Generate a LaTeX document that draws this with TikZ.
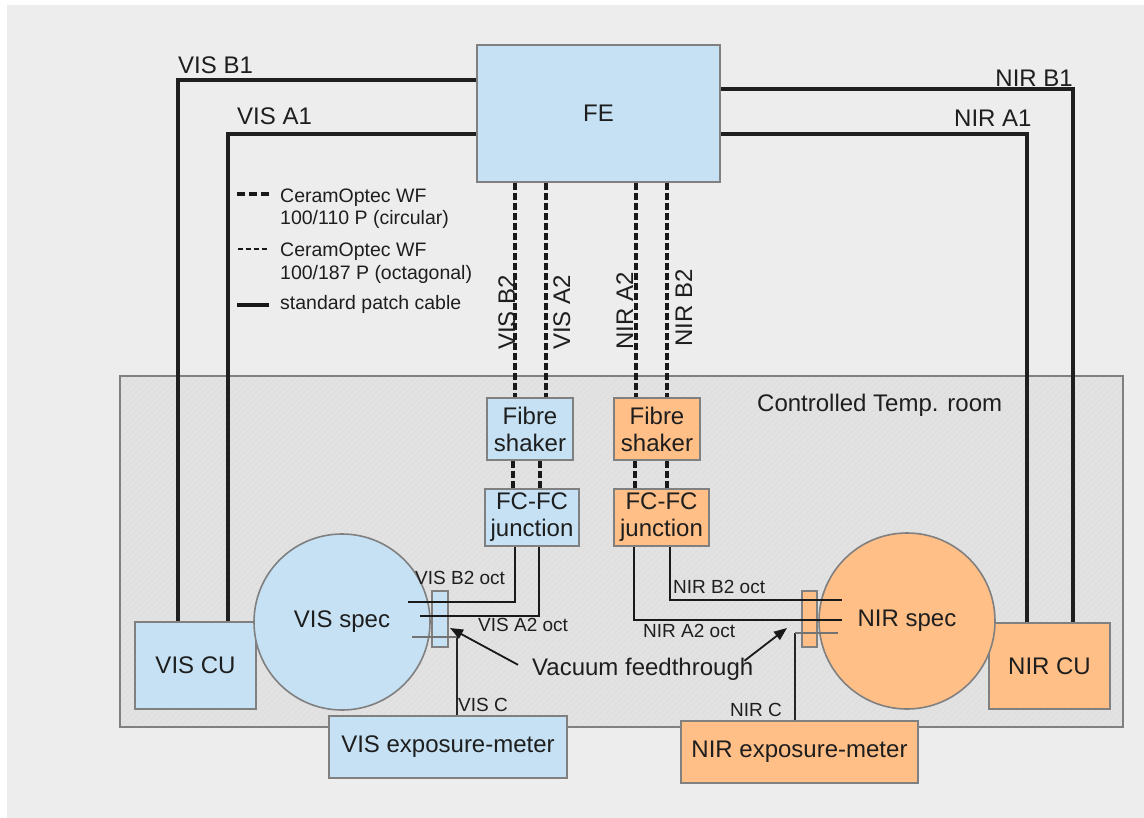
\documentclass[tikz,border=0pt]{standalone}
\usepackage{fontspec}
\setmainfont{Liberation Sans}
\usetikzlibrary{arrows.meta,patterns.meta}
\definecolor{visblue}{HTML}{C5E1F3}
\definecolor{nirorange}{HTML}{FFBF87}
\definecolor{bordergray}{HTML}{808080}
\definecolor{bggray}{HTML}{EDEDED}
\definecolor{roomgray}{HTML}{E2E2E2}
\definecolor{roomhatch}{HTML}{DADADA}
\definecolor{txt}{HTML}{1E1E1E}
\begin{document}
\begin{tikzpicture}[x=1pt,y=-1pt,
  big/.style={font=\fontsize{24}{27}\selectfont, text=txt},
  small/.style={font=\fontsize{19}{22}\selectfont, text=txt},
  legtxt/.style={font=\fontsize{19.5}{22}\selectfont, text=txt},
  box/.style={draw=bordergray, line width=1.6pt, inner sep=0pt, align=center, big},
  vis/.style={box, fill=visblue},
  nir/.style={box, fill=nirorange},
  patch/.style={line width=3.4pt, black!88},
  circfib/.style={line width=4pt, dash pattern=on 7pt off 3pt, black!90},
  octthin/.style={line width=1.5pt, dash pattern=on 5pt off 3pt, black!90},
  octfib/.style={line width=2pt, black!90},
  cline/.style={line width=2pt, black!85},
  cgray/.style={line width=2pt, black!55},
  arr/.style={line width=1.8pt, black!90, -{Triangle[length=13pt,width=10pt]}},
  lbl/.style={inner sep=0pt, anchor=base west}
]
\useasboundingbox (0,0) rectangle (1144,818);
\fill[white] (0,0) rectangle (1144,818);
\fill[bggray] (7,5) rectangle (1144,818);

% controlled temperature room
\node[fill=roomgray, inner sep=0pt, minimum width=1003pt, minimum height=351pt,
      postaction={pattern={Lines[angle=45,distance=4pt,line width=0.6pt]}, pattern color=roomhatch}]
      (room) at (621.5,551.5) {};
\draw[bordergray, line width=1.8pt] (room.north west) rectangle (room.south east);
\node[lbl, big] (lroom) at (757,412) {Controlled Temp. room};

% nodes
\node[vis, minimum width=243pt, minimum height=137pt] (FE) at (598.5,113.5) {FE};
\node[vis, minimum width=86pt, minimum height=62pt] (vshk) at (530,429) {Fibre\\shaker};
\node[nir, minimum width=86pt, minimum height=62pt] (nshk) at (657,429) {Fibre\\shaker};
\node[vis, minimum width=94pt, minimum height=57pt] (vjun) at (532,517.5) {FC-FC\\junction};
\node[nir, minimum width=95pt, minimum height=57pt] (njun) at (661.5,517.5) {FC-FC\\junction};
\node[vis, minimum width=121pt, minimum height=87pt] (vcu) at (195.5,665.5) {VIS CU};
\node[nir, minimum width=121pt, minimum height=86pt] (ncu) at (1049.5,666) {NIR CU};
\node[vis, circle, minimum size=176pt] (vspec) at (342,622) {VIS spec};
\node[nir, circle, minimum size=176pt] (nspec) at (907,621) {NIR spec};
\node[vis, minimum width=238pt, minimum height=62pt] (vexp) at (448,747) {VIS exposure-meter};
\node[nir, minimum width=237pt, minimum height=62pt] (nexp) at (799.5,752) {NIR exposure-meter};
\node[vis, minimum width=16pt, minimum height=56pt] (vft) at (440,619) {};
\node[nir, minimum width=15pt, minimum height=56pt] (nft) at (809.5,619) {};

% patch cables FE -> CU
\draw[patch] ([yshift=33.5pt]FE.west) -| ([xshift=-17.5pt]vcu.north);
\draw[patch] ([yshift=-20.5pt]FE.west) -| ([xshift=32.5pt]vcu.north);
\draw[patch] ([yshift=24.5pt]FE.east) -| ([xshift=23.5pt]ncu.north);
\draw[patch] ([yshift=-20.5pt]FE.east) -| ([xshift=-22.5pt]ncu.north);
\node[lbl, big] (lVB1) at (178,74) {VIS B1};
\node[lbl, big] (lVA1) at (237,125) {VIS A1};
\node[lbl, big, anchor=base east] (lNB1) at (1073,87) {NIR B1};
\node[lbl, big] (lNA1) at (954,127) {NIR A1};

% circular fibres FE -> shakers
\coordinate (cVB2) at (515,0);
\coordinate (cVA2) at (546,0);
\coordinate (cNA2) at (636,0);
\coordinate (cNB2) at (667,0);
\draw[circfib] (cVB2 |- FE.south) -- (cVB2 |- vshk.north);
\draw[circfib] (cVA2 |- FE.south) -- (cVA2 |- vshk.north);
\draw[circfib] (cNA2 |- FE.south) -- (cNA2 |- nshk.north);
\draw[circfib] (cNB2 |- FE.south) -- (cNB2 |- nshk.north);
\node[lbl, big, rotate=90] (lVB2) at (515,350) {VIS B2};
\node[lbl, big, rotate=90] (lVA2) at (570,350) {VIS A2};
\node[lbl, big, rotate=90] (lNA2) at (633,350) {NIR A2};
\node[lbl, big, rotate=90] (lNB2) at (692,347) {NIR B2};

% shakers -> junctions
\coordinate (sV1) at (513,0);
\coordinate (sV2) at (540,0);
\coordinate (sN1) at (635,0);
\coordinate (sN2) at (667,0);
\draw[circfib] (sV1 |- vshk.south) -- (sV1 |- vjun.north);
\draw[circfib] (sV2 |- vshk.south) -- (sV2 |- vjun.north);
\draw[circfib] (sN1 |- nshk.south) -- (sN1 |- njun.north);
\draw[circfib] (sN2 |- nshk.south) -- (sN2 |- njun.north);

% octagonal fibres junction -> spectrographs
\coordinate (oVB2x) at (515,0);
\coordinate (oVB2) at (408,602);
\coordinate (oVA2x) at (539,0);
\coordinate (oVA2) at (420,616);
\coordinate (oNA2x) at (634,0);
\coordinate (oNA2) at (842,620);
\coordinate (oNB2x) at (670,0);
\coordinate (oNB2) at (842,600);
\draw[octfib] (oVB2x |- vjun.south) |- (oVB2);
\draw[octfib] (oVA2x |- vjun.south) |- (oVA2);
\draw[octfib] (oNA2x |- njun.south) |- (oNA2);
\draw[octfib] (oNB2x |- njun.south) |- (oNB2);
\node[lbl, small] (lVB2o) at (415,584) {VIS B2 oct};
\node[lbl, small] (lVA2o) at (478,631) {VIS A2 oct};
\node[lbl, small] (lNB2o) at (673,593) {NIR B2 oct};
\node[lbl, small] (lNA2o) at (643,637) {NIR A2 oct};

% exposure-meter fibres
\coordinate (vCx) at (457,0);
\coordinate (vCend) at (412,637);
\coordinate (nCx) at (795,0);
\coordinate (nCend) at (838,633);
\draw[cline] (vCx |- vexp.north) -- (vCx |- vCend);
\draw[cgray] (vCx |- vCend) -- (vCend);
\draw[cline] (nCx |- nexp.north) -- (nCx |- nCend);
\draw[cgray] (nCx |- nCend) -- (nCend);
\node[lbl, small] (lVC) at (458,711) {VIS C};
\node[lbl, small] (lNC) at (730,716) {NIR C};

% vacuum feedthrough label and arrows
\node[lbl, big] (vac) at (532,675) {Vacuum feedthrough};
\coordinate (vtip) at (450,628);
\coordinate (ntip) at (787,628);
\draw[arr] ([shift={(-14pt,4pt)}]vac.west) -- (vtip);
\draw[arr] ([shift={(-9pt,8pt)}]vac.east) -- (ntip);

% legend
\coordinate (lg1a) at (237,194); \coordinate (lg1b) at (270,194);
\coordinate (lg2a) at (238,249); \coordinate (lg2b) at (268,249);
\coordinate (lg3a) at (237,305); \coordinate (lg3b) at (269,305);
\draw[line width=4pt, dash pattern=on 8pt off 4pt, black!90] (lg1a) -- (lg1b);
\draw[octthin] (lg2a) -- (lg2b);
\draw[line width=4pt, black!90] (lg3a) -- (lg3b);
\node[lbl, legtxt] (lt1) at (280,203) {CeramOptec WF};
\node[lbl, legtxt] (lt2) at (280,225) {100/110 P (circular)};
\node[lbl, legtxt] (lt3) at (280,257) {CeramOptec WF};
\node[lbl, legtxt] (lt4) at (280,280) {100/187 P (octagonal)};
\node[lbl, legtxt] (lt5) at (280,310) {standard patch cable};
\end{tikzpicture}
\end{document}
